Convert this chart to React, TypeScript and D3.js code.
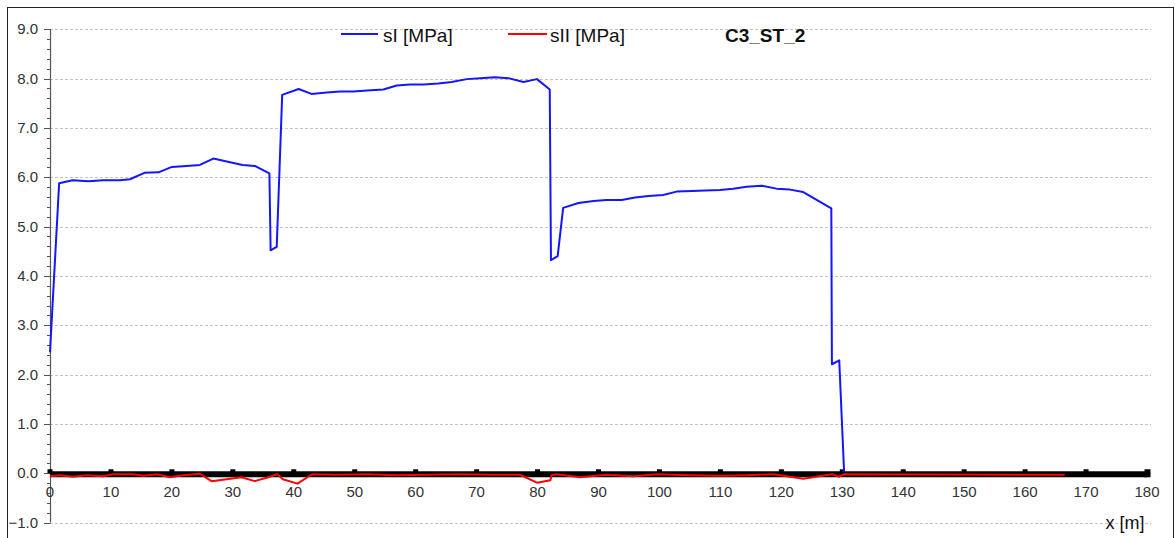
import * as d3 from 'd3';

// x positions [m] and values [MPa]
const xsI = [0, 1.5, 3.7, 6.3, 8.7, 11.5, 13.1, 15.5, 17.8, 20.0, 22.4, 24.6, 26.8, 29.0, 31.6, 33.6, 36.0, 36.2, 37.2, 38.1,
  40.8, 42.9, 45.4, 47.6, 49.8, 52.0, 54.7, 56.9, 59.1, 61.3, 63.7, 65.9, 68.4, 70.6, 73.0, 75.2, 77.7, 79.9, 82.0, 82.2,
  83.3, 84.2, 86.7, 89.2, 91.3, 93.8, 96.0, 98.2, 100.6, 102.8, 105.3, 107.5, 109.9, 112.1, 114.3, 116.8, 119.2, 121.4, 123.6, 128.2,
  128.3, 129.5, 130.3];
const sI = [2.45, 5.88, 5.94, 5.92, 5.94, 5.94, 5.96, 6.09, 6.10, 6.21, 6.23, 6.25, 6.38, 6.32, 6.25, 6.23, 6.08, 4.52, 4.59, 7.67,
  7.79, 7.69, 7.72, 7.74, 7.74, 7.76, 7.78, 7.86, 7.88, 7.88, 7.90, 7.93, 7.99, 8.01, 8.03, 8.01, 7.93, 7.99, 7.78, 4.32,
  4.40, 5.38, 5.48, 5.52, 5.54, 5.54, 5.59, 5.62, 5.64, 5.71, 5.72, 5.73, 5.74, 5.77, 5.81, 5.83, 5.77, 5.75, 5.70, 5.37,
  2.21, 2.29, 0.02];

const xsII = [0, 1.6, 3.8, 6.0, 8.7, 10.4, 13.7, 15.3, 17.5, 19.7, 21.9, 24.6, 26.5, 29.0, 31.4, 33.6, 35.8, 37.3, 38.2, 40.6,
  43, 47, 52, 57, 62, 67, 72.7, 77.1, 79.9, 82.1, 82.3, 83.1, 87, 91.3, 95.7, 99.6, 105, 110, 114.3, 118.7,
  123.6, 128.3, 129.5, 130.3, 166.5];
const sII = [-0.06, -0.04, -0.07, -0.04, -0.06, -0.02, -0.02, -0.05, -0.02, -0.08, -0.04, -0.01, -0.16, -0.12, -0.08, -0.16, -0.08, -0.02, -0.12, -0.21,
  -0.02, -0.03, -0.02, -0.04, -0.03, -0.02, -0.03, -0.03, -0.19, -0.14, -0.04, -0.02, -0.08, -0.03, -0.06, -0.02, -0.04, -0.05, -0.04, -0.02,
  -0.11, -0.02, -0.07, -0.02, -0.03];

const xTicks = d3.range(0, 181, 10);
const yTicks = d3.range(-1, 9.01, 1);
const yMinor = d3.range(-1, 9.01, 0.2);

const title = 'C3_ST_2';
const legendI = 'sI [MPa]';
const legendII = 'sII [MPa]';
const xTitle = 'x [m]';

const W = 1175;
const H = 538;

export default function App() {
  const x = d3.scaleLinear().domain([0, 180]).range([50, 1147]);
  const y = d3.scaleLinear().domain([-1, 9]).range([522.6, 29.3]);

  const line = d3.line<[number, number]>()
    .x(d => x(d[0]))
    .y(d => y(d[1]));

  const ptsI = xsI.map((v, i) => [v, sI[i]] as [number, number]);
  const ptsII = xsII.map((v, i) => [v, sII[i]] as [number, number]);

  const font = 'Arial, "Liberation Sans", sans-serif';
  const y0 = y(0);

  return (
    <svg width={W} height={H} style={{ position: 'absolute', left: 0, top: 0, background: '#fff' }}
      fontFamily={font}>
      {/* frame */}
      <rect x={7.5} y={7.5} width={1166} height={540} fill="none" stroke="#222" strokeWidth={1} />

      {/* grid */}
      {yTicks.map(t => (
        <line key={'g' + t} x1={x(0)} x2={1151} y1={Math.round(y(t)) + 0.5} y2={Math.round(y(t)) + 0.5}
          stroke="#c4c4c4" strokeDasharray="3,2" strokeWidth={1} />
      ))}

      {/* y axis */}
      <line x1={50.5} x2={50.5} y1={y(9)} y2={y(-1)} stroke="#555" strokeWidth={1.2} />
      {yMinor.map(t => (
        <line key={'m' + t} x1={47} x2={50.5} y1={Math.round(y(t)) + 0.5} y2={Math.round(y(t)) + 0.5}
          stroke="#555" strokeWidth={1} />
      ))}
      {yTicks.map(t => (
        <g key={'yt' + t}>
          <line x1={44} x2={50.5} y1={Math.round(y(t)) + 0.5} y2={Math.round(y(t)) + 0.5} stroke="#555" strokeWidth={1} />
          <text x={38} y={y(t) + 5} textAnchor="end" fontSize={15} fill="#333">{d3.format('.1f')(t)}</text>
        </g>
      ))}

      {/* thick zero axis */}
      <rect x={x(0)} y={y0 - 2} width={x(180) - x(0)} height={6} fill="#000" />
      {xTicks.map(t => (
        <g key={'xt' + t}>
          <rect x={x(t) - 2.5} y={y0 - 4} width={t === 180 ? 6 : 5} height={t === 180 ? 8 : 4} fill="#000" />
          <text x={x(t)} y={497} textAnchor="middle" fontSize={15} fill="#333">{t}</text>
        </g>
      ))}
      <text x={1125} y={529} textAnchor="middle" fontSize={18} fill="#111">{xTitle}</text>

      {/* series */}
      <path d={line(ptsI) ?? ''} fill="none" stroke="#1515ff" strokeWidth={2} strokeLinejoin="round" />
      <path d={line(ptsII) ?? ''} fill="none" stroke="#ff0000" strokeWidth={2} strokeLinejoin="round" />

      {/* legend */}
      <line x1={341} x2={378} y1={34} y2={34} stroke="#1515ff" strokeWidth={2} />
      <text x={383} y={42} fontSize={19} fill="#111">{legendI}</text>
      <line x1={508} x2={547} y1={34} y2={34} stroke="#ff0000" strokeWidth={2} />
      <text x={550} y={42} fontSize={19} fill="#111">{legendII}</text>
      <text x={725} y={42} fontSize={19} fontWeight="bold" fill="#111">{title}</text>
    </svg>
  );
}
